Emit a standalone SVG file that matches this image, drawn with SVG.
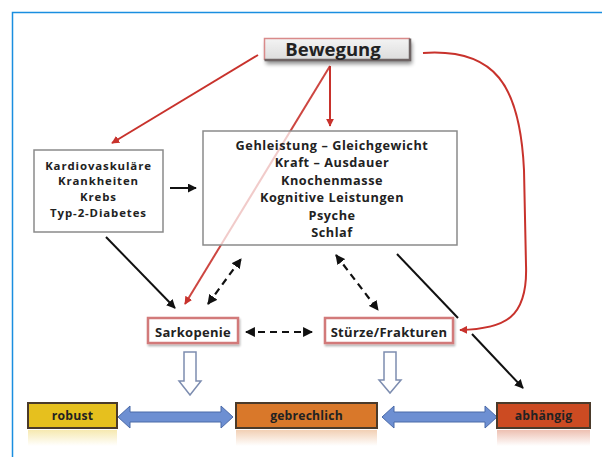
<svg xmlns="http://www.w3.org/2000/svg" width="602" height="457" viewBox="0 0 602 457">
<style>
text{font-family:"Open Sans","Liberation Sans",sans-serif;font-weight:bold;fill:#222;text-anchor:middle}
.plain{fill:#fff;stroke:#8a8a8a;stroke-width:1.5}
.pink{fill:#fff;stroke:#d27a7a;stroke-width:2.5}
.lvl{stroke:#4a3a2a;stroke-width:2}
.red{fill:none;stroke:#c8322c;stroke-width:2}
.blk{fill:none;stroke:#111;stroke-width:2}
.dash{fill:none;stroke:#111;stroke-width:2.2;stroke-dasharray:7 5}
.dbl{fill:#6d8fd2;stroke:#4b6aa8;stroke-width:1}
.hollow{fill:#fff;stroke:#7d8db0;stroke-width:1.5}
</style>
<defs>
<marker id="ar" viewBox="0 0 10 10" refX="9" refY="5" markerWidth="4" markerHeight="4" orient="auto-start-reverse"><path d="M0,0 L10,5 L0,10 Z" fill="#c8322c"/></marker>
<marker id="ab" viewBox="0 0 10 10" refX="9" refY="5" markerWidth="4.5" markerHeight="4.5" orient="auto-start-reverse"><path d="M0,0 L10,5 L0,10 Z" fill="#111"/></marker>
<linearGradient id="gb" x1="0" y1="0" x2="0" y2="1"><stop offset="0" stop-color="#f4f4f4"/><stop offset="1" stop-color="#dcdcdc"/></linearGradient>
<linearGradient id="ry" x1="0" y1="0" x2="0" y2="1"><stop offset="0" stop-color="#e6c01e" stop-opacity=".35"/><stop offset="1" stop-color="#e6c01e" stop-opacity="0"/></linearGradient>
<linearGradient id="ro" x1="0" y1="0" x2="0" y2="1"><stop offset="0" stop-color="#d9782a" stop-opacity=".35"/><stop offset="1" stop-color="#d9782a" stop-opacity="0"/></linearGradient>
<linearGradient id="rr" x1="0" y1="0" x2="0" y2="1"><stop offset="0" stop-color="#cc4b22" stop-opacity=".35"/><stop offset="1" stop-color="#cc4b22" stop-opacity="0"/></linearGradient>
<filter id="sh" x="-20%" y="-40%" width="140%" height="200%"><feGaussianBlur in="SourceAlpha" stdDeviation="2"/><feOffset dx="2" dy="4"/><feComponentTransfer><feFuncA type="linear" slope=".45"/></feComponentTransfer><feMerge><feMergeNode/><feMergeNode in="SourceGraphic"/></feMerge></filter>
<filter id="sh2" x="-10%" y="-30%" width="120%" height="160%"><feGaussianBlur in="SourceAlpha" stdDeviation="1.2"/><feOffset dx="1" dy="1.5"/><feComponentTransfer><feFuncA type="linear" slope=".3"/></feComponentTransfer><feMerge><feMergeNode/><feMergeNode in="SourceGraphic"/></feMerge></filter>
</defs>
<rect width="602" height="457" fill="#fff"/>
<path d="M12.5,457 V12.5 H602" fill="none" stroke="#1a8ee0" stroke-width="1.5"/>

<g id="connectors">
<path class="red" d="M258,55 L112,143" marker-end="url(#ar)"/>
<path class="red" d="M330,66 L330,126" marker-end="url(#ar)"/>
<path class="red" d="M330,66 L185,304" marker-end="url(#ar)" stroke-opacity=".9"/>
<path class="red" d="M423,53 C495,48 520,85 524,170 L526,265 C528,318 505,329 460,330" marker-end="url(#ar)"/>
<path class="blk" d="M170,188 L196,188" marker-end="url(#ab)"/>
<path class="blk" d="M106,237 L175,308" marker-end="url(#ab)"/>
<path class="dash" d="M208,304 L241,259" marker-start="url(#ab)" marker-end="url(#ab)"/>
<path class="dash" d="M336,255 L378,310" marker-start="url(#ab)" marker-end="url(#ab)"/>
<path class="dash" d="M246,332 L312,332" marker-start="url(#ab)" marker-end="url(#ab)"/>
<path class="blk" d="M397,254 L458,318"/>
<path class="blk" d="M472,334 L523,388" marker-end="url(#ab)"/>
<path class="dbl" d="M118,417 L130,406 L130,412 L221,412 L221,406 L233,417 L221,428 L221,422 L130,422 L130,428 Z"/>
<path class="dbl" d="M382,417 L394,406 L394,412 L485,412 L485,406 L497,417 L485,428 L485,422 L394,422 L394,428 Z"/>
<path class="hollow" d="M184,352 L196,352 L196,381 L201,381 L190,395 L179,381 L184,381 Z"/>
<path class="hollow" d="M384,352 L396,352 L396,380 L401,380 L390,393 L379,380 L384,380 Z"/>
</g>

<g id="bewegung">
<rect x="264" y="38" width="146" height="22" fill="url(#gb)" filter="url(#sh)"/>
<path d="M264.5,60 V38.5 H410" fill="none" stroke="#d98a8a" stroke-width="1.5"/>
<path d="M410,38.5 V60 H264.5" fill="none" stroke="#6e6464" stroke-width="2.5"/>
<text x="333" y="56" font-size="18.5">Bewegung</text>
</g>

<g id="kardio">
<rect class="plain" x="34" y="150" width="129" height="82"/>
<text font-size="11.4" letter-spacing="0.9"><tspan x="98.5" y="169.5">Kardiovaskuläre</tspan><tspan x="98.5" y="185.2">Krankheiten</tspan><tspan x="98.5" y="200.9">Krebs</tspan><tspan x="98.5" y="216.6">Typ-2-Diabetes</tspan></text>
</g>

<g id="effekte">
<rect class="plain" x="203" y="131" width="254" height="114" fill-opacity=".72"/>
<text font-size="12.7" letter-spacing="0.55"><tspan x="332" y="150">Gehleistung – Gleichgewicht</tspan><tspan x="332" y="167.4">Kraft – Ausdauer</tspan><tspan x="332" y="184.8">Knochenmasse</tspan><tspan x="332" y="202.2">Kognitive Leistungen</tspan><tspan x="332" y="219.6">Psyche</tspan><tspan x="332" y="237">Schlaf</tspan></text>
</g>

<g id="sarkopenie">
<rect class="pink" x="148" y="318" width="90" height="25" filter="url(#sh2)"/>
<text x="193" y="336.5" font-size="13" letter-spacing="0.3">Sarkopenie</text>
</g>

<g id="stuerze">
<rect class="pink" x="325" y="318" width="128" height="25" filter="url(#sh2)"/>
<text x="389" y="336.5" font-size="13" letter-spacing="0.3">Stürze/Frakturen</text>
</g>

<g id="robust">
<rect x="28" y="430" width="89" height="16" fill="url(#ry)"/>
<rect class="lvl" x="28" y="403" width="89" height="25" fill="#e6c01e"/>
<text x="72.5" y="419.5" font-size="12.2" letter-spacing="0.2">robust</text>
</g>

<g id="gebrechlich">
<rect x="236" y="430" width="141" height="16" fill="url(#ro)"/>
<rect class="lvl" x="236" y="403" width="141" height="25" fill="#d9782a"/>
<text x="306.5" y="419.5" font-size="12.2" letter-spacing="0.2">gebrechlich</text>
</g>

<g id="abhaengig">
<rect x="497" y="430" width="93" height="16" fill="url(#rr)"/>
<rect class="lvl" x="497" y="403" width="93" height="25" fill="#cc4b22"/>
<text x="543.5" y="419.5" font-size="12.2" letter-spacing="0.2">abhängig</text>
</g>
</svg>
